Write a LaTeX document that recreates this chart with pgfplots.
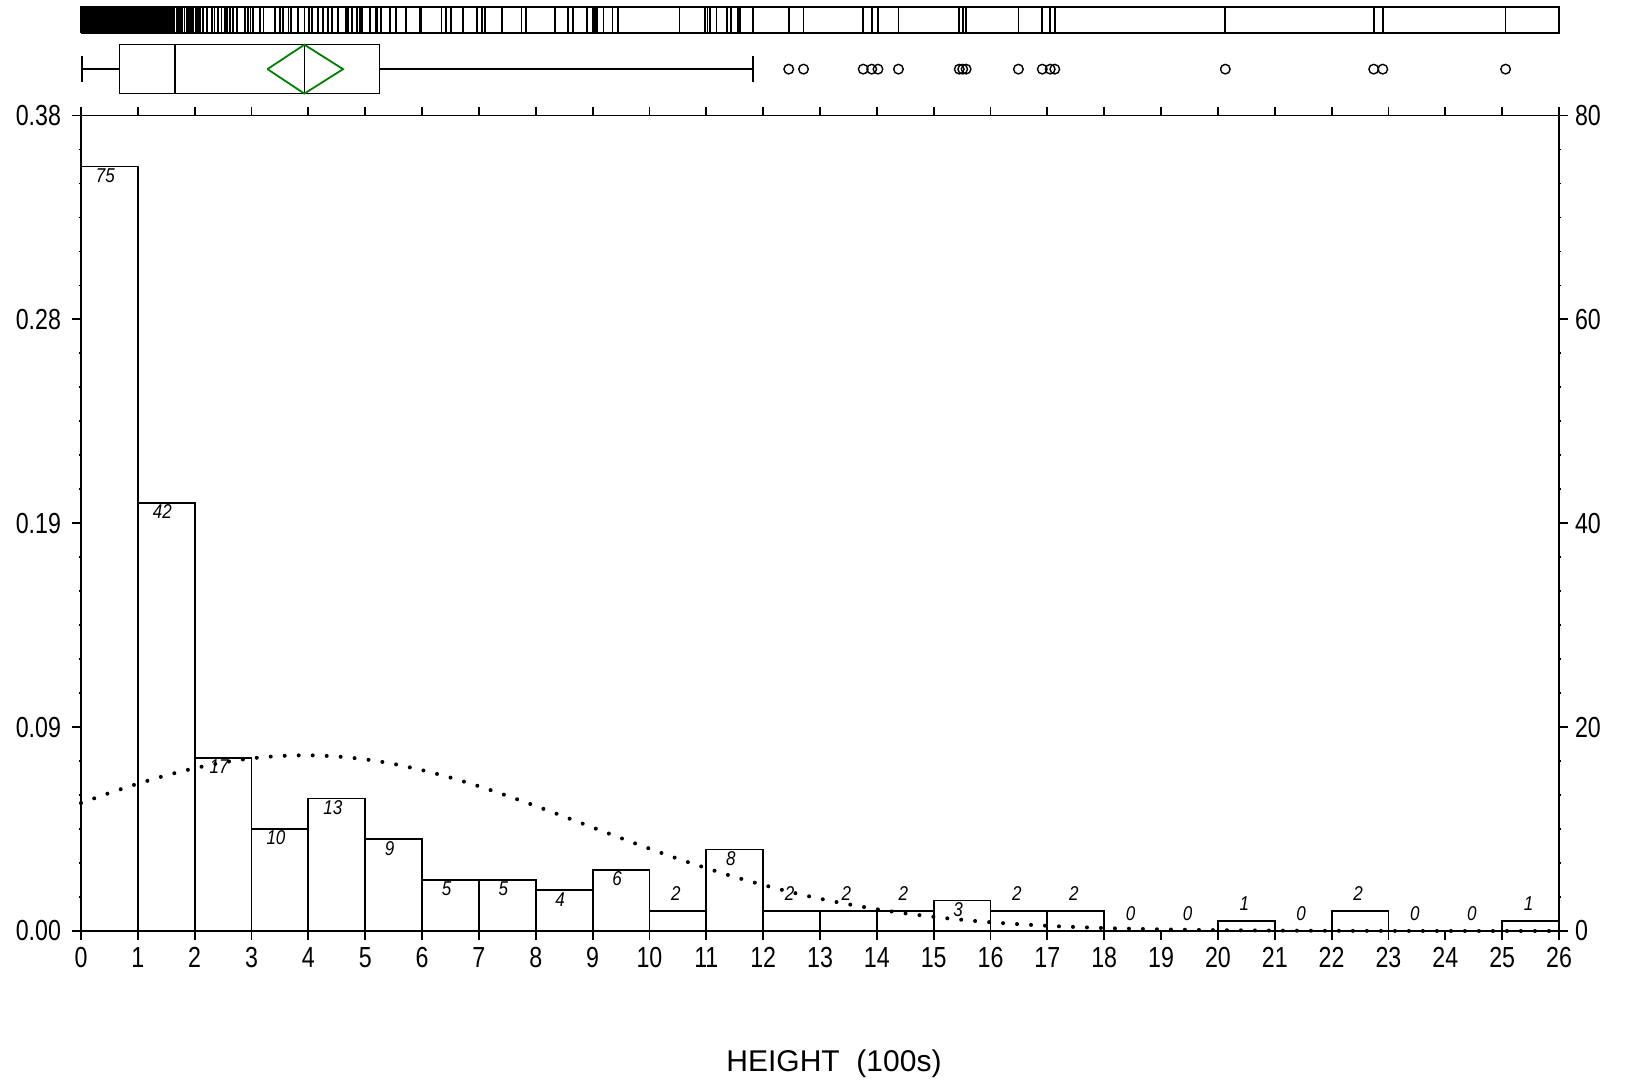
\documentclass[border=0pt]{standalone}
\usepackage{pgfplots}
\pgfplotsset{compat=1.18}
\usepackage{fontspec}
\setmainfont{Liberation Sans}
\newfontfamily\tickfont{Liberation Sans}[FakeStretch=0.8]
\newfontfamily\lblfont{Liberation Sans}[FakeStretch=0.85]
\definecolor{boxgreen}{RGB}{0,128,0}
\begin{document}
\begin{tikzpicture}
\pgfplotsset{
  commonx/.style={scale only axis, width=739pt, xmin=0, xmax=26},
  thinline/.style={black, line width=0.8pt, mark=none},
}
% ---------- main histogram axis (left: density) ----------
\begin{axis}[
  commonx,
  at={(0,0)}, anchor=south west,
  height=407.75pt,
  ymin=0, ymax=80,
  axis line style={line width=0.9pt},
  tick align=outside,
  xtick={0,1,...,26},
  xtick pos=both, xticklabel pos=bottom,
  ytick={0,20,40,60,80},
  yticklabels={0.00,0.09,0.19,0.28,0.38},
  ytick pos=left,
  minor y tick num=5,
  major tick length=4.5pt, minor tick length=1.2pt,
  every tick/.style={black, line width=0.9pt},
  ticklabel style={font=\tickfont\fontsize{14.5}{15}\selectfont},
  yticklabel style={xshift=-2pt},
  /pgf/number format/assume math mode=true,
  xlabel={HEIGHT\ \ (100s)},
  xlabel style={font=\fontsize{15}{17}\selectfont, at={(rel axis cs:0.5,0)}, anchor=center, yshift=-66.5pt, xshift=7pt},
  clip=false,
]
\addplot[ybar, bar width=1, bar shift=0pt, fill=white, draw=black, line width=0.9pt]
 coordinates {(0.5,75) (1.5,42) (2.5,17) (3.5,10) (4.5,13) (5.5,9) (6.5,5) (7.5,5) (8.5,4) (9.5,6)
 (10.5,2) (11.5,8) (12.5,2) (13.5,2) (14.5,2) (15.5,3) (16.5,2) (17.5,2) (18.5,0) (19.5,0)
 (20.5,1) (21.5,0) (22.5,2) (23.5,0) (24.5,0) (25.5,1)};
\addplot[smooth, black, line width=2pt, line cap=round, dash pattern=on 0pt off 7pt]
 coordinates {(0,12.55)(0.5,13.54)(1,14.45)(1.5,15.27)(2,15.97)(2.5,16.53)(3,16.94)(3.5,17.17)(4,17.24)(4.5,17.12)(5,16.84)(5.5,16.39)(6,15.78)(6.5,15.05)(7,14.20)(7.5,13.26)(8,12.26)(8.5,11.22)(9,10.16)(9.5,9.11)(10,8.08)(10.5,7.09)(11,6.17)(11.5,5.30)(12,4.52)(12.5,3.80)(13,3.17)(13.5,2.62)(14,2.14)(14.5,1.73)(15,1.39)(15.5,1.10)(16,0.86)(16.5,0.67)(17,0.51)(17.5,0.39)(18,0.29)(18.5,0.22)(19,0.16)(19.5,0.12)(20,0.085)(21,0.043)(22,0.021)(23,0.009)(24,0.004)(25,0.002)(26,0.001)};
% count labels inside bars (>=3)
\addplot[draw=none, mark=none, nodes near coords, point meta=explicit symbolic,
  nodes near coords style={font=\lblfont\itshape\fontsize{10}{11}\selectfont, anchor=center, yshift=-4.5pt, xshift=-2pt}]
 coordinates {(0.5,75)[75] (1.5,42)[42] (2.5,17)[17] (3.5,10)[10] (4.5,13)[13] (5.5,9)[9] (6.5,5)[5] (7.5,5)[5] (8.5,4)[4] (9.5,6)[6] (11.5,8)[8] (15.5,3)[3]};
% count labels above bars (<=2)
\addplot[draw=none, mark=none, nodes near coords, point meta=explicit symbolic,
  nodes near coords style={font=\lblfont\itshape\fontsize{10}{11}\selectfont, anchor=center, yshift=8.8pt, xshift=-1pt}]
 coordinates {(10.5,2)[2] (12.5,2)[2] (13.5,2)[2] (14.5,2)[2] (16.5,2)[2] (17.5,2)[2] (18.5,0)[0] (19.5,0)[0] (20.5,1)[1] (21.5,0)[0] (22.5,2)[2] (23.5,0)[0] (24.5,0)[0] (25.5,1)[1]};
\end{axis}
% ---------- right axis: counts ----------
\begin{axis}[
  commonx,
  at={(0,0)}, anchor=south west,
  height=407.75pt,
  ymin=0, ymax=80,
  axis x line=none, axis y line*=right,
  axis line style={line width=0.9pt},
  tick align=outside,
  ytick={0,20,40,60,80},
  minor y tick num=5,
  major tick length=4.5pt, minor tick length=1.2pt,
  every tick/.style={black, line width=0.9pt},
  ticklabel style={font=\tickfont\fontsize{14.5}{15}\selectfont},
  /pgf/number format/assume math mode=true,
]
\addplot[draw=none, mark=none] coordinates {(0,0)};
\end{axis}
% ---------- box plot ----------
\begin{axis}[
  commonx,
  at={(0,418.7pt)}, anchor=south west,
  height=24.45pt, ymin=0, ymax=1, hide axis, clip=false,
]
\addplot[thinline] coordinates {(0.68,0)(5.25,0)(5.25,1)(0.68,1)(0.68,0)};
\addplot[thinline] coordinates {(1.65,0)(1.65,1)};
\addplot[thinline] coordinates {(3.93,0)(3.93,1)};
\addplot[thinline] coordinates {(0.02,0.5)(0.68,0.5)};
\addplot[thinline] coordinates {(5.25,0.5)(11.82,0.5)};
\addplot[thinline] coordinates {(0.02,0.24)(0.02,0.76)};
\addplot[thinline] coordinates {(11.82,0.24)(11.82,0.76)};
\addplot[boxgreen, line width=0.9pt, mark=none] coordinates {(3.28,0.5)(3.93,1)(4.61,0.5)(3.93,0)(3.28,0.5)};
\addplot[only marks, mark=o, mark size=2.4pt, black, mark options={line width=0.7pt}]
 coordinates {(12.45,0.5)(12.71,0.5)(13.76,0.5)(13.91,0.5)(14.02,0.5)(14.38,0.5)(15.45,0.5)(15.51,0.5)(15.57,0.5)(16.49,0.5)(16.91,0.5)(17.05,0.5)(17.13,0.5)(20.13,0.5)(22.74,0.5)(22.90,0.5)(25.06,0.5)};
\end{axis}
% ---------- rug ----------
\begin{axis}[
  commonx,
  at={(0,448.85pt)}, anchor=south west,
  height=13pt, ymin=0, ymax=1, hide axis, clip=false,
]
\addplot[black, line width=0.9pt, mark=none] coordinates {(0,0)(26,0)(26,1)(0,1)(0,0)};
\addplot[ycomb, black, line width=0.9pt, mark=none] coordinates {
(0.02,1)(0.03,1)(0.05,1)(0.06,1)(0.07,1)(0.09,1)(0.10,1)(0.11,1)(0.12,1)(0.14,1)(0.15,1)(0.16,1)(0.18,1)(0.19,1)(0.20,1)(0.21,1)(0.23,1)(0.24,1)(0.25,1)(0.27,1)(0.28,1)(0.29,1)(0.31,1)(0.32,1)(0.33,1)(0.35,1)(0.36,1)(0.37,1)(0.38,1)(0.40,1)(0.41,1)(0.42,1)(0.44,1)(0.45,1)(0.46,1)(0.48,1)(0.49,1)(0.50,1)(0.52,1)(0.53,1)(0.54,1)(0.55,1)(0.57,1)(0.58,1)(0.59,1)(0.60,1)(0.62,1)(0.63,1)(0.64,1)(0.65,1)(0.66,1)(0.67,1)(0.68,1)
(0.70,1)(0.71,1)(0.73,1)(0.74,1)(0.76,1)(0.77,1)(0.79,1)(0.80,1)(0.82,1)(0.83,1)(0.84,1)(0.86,1)(0.87,1)(0.89,1)(0.90,1)(0.92,1)(0.93,1)(0.95,1)(0.96,1)(0.97,1)(0.98,1)(0.99,1)
(1.01,1)(1.03,1)(1.05,1)(1.07,1)(1.09,1)(1.10,1)(1.12,1)(1.14,1)(1.16,1)(1.18,1)(1.20,1)(1.22,1)(1.24,1)(1.26,1)(1.28,1)(1.30,1)(1.32,1)(1.34,1)(1.36,1)(1.38,1)(1.40,1)(1.42,1)(1.44,1)(1.46,1)(1.48,1)(1.50,1)(1.52,1)(1.55,1)(1.57,1)(1.59,1)(1.61,1)(1.64,1)
(1.68,1)(1.71,1)(1.74,1)(1.78,1)(1.82,1)(1.86,1)(1.89,1)(1.92,1)(1.95,1)(1.97,1)
(2.02,1)(2.06,1)(2.09,1)(2.14,1)(2.21,1)(2.30,1)(2.35,1)(2.41,1)(2.47,1)(2.53,1)(2.57,1)(2.62,1)(2.68,1)(2.75,1)(2.88,1)(2.94,1)(2.98,1)
(3.02,1)(3.15,1)(3.21,1)(3.41,1)(3.50,1)(3.56,1)(3.65,1)(3.70,1)(3.82,1)(3.93,1)
(4.01,1)(4.06,1)(4.17,1)(4.26,1)(4.35,1)(4.41,1)(4.52,1)(4.66,1)(4.70,1)(4.77,1)(4.85,1)(4.91,1)(4.95,1)
(5.08,1)(5.19,1)(5.21,1)(5.28,1)(5.43,1)(5.54,1)(5.72,1)(5.96,1)(5.99,1)
(6.34,1)(6.42,1)(6.51,1)(6.72,1)(6.96,1)
(7.05,1)(7.11,1)(7.40,1)(7.75,1)(7.83,1)
(8.34,1)(8.56,1)(8.66,1)(8.90,1)
(9.01,1)(9.04,1)(9.07,1)(9.19,1)(9.35,1)(9.45,1)
(10.53,1)(10.97,1)
(11.02,1)(11.07,1)(11.18,1)(11.37,1)(11.43,1)(11.56,1)(11.59,1)(11.82,1)
(12.45,1)(12.71,1)(13.76,1)(13.91,1)(14.02,1)(14.38,1)(15.45,1)(15.51,1)(15.57,1)(16.49,1)(16.91,1)(17.05,1)(17.13,1)(20.13,1)(22.74,1)(22.90,1)(25.06,1)};
\end{axis}
\pgfresetboundingbox
\path[use as bounding box] (-40.5pt,-76pt) rectangle (775pt,465.5pt);
\end{tikzpicture}
\end{document}
